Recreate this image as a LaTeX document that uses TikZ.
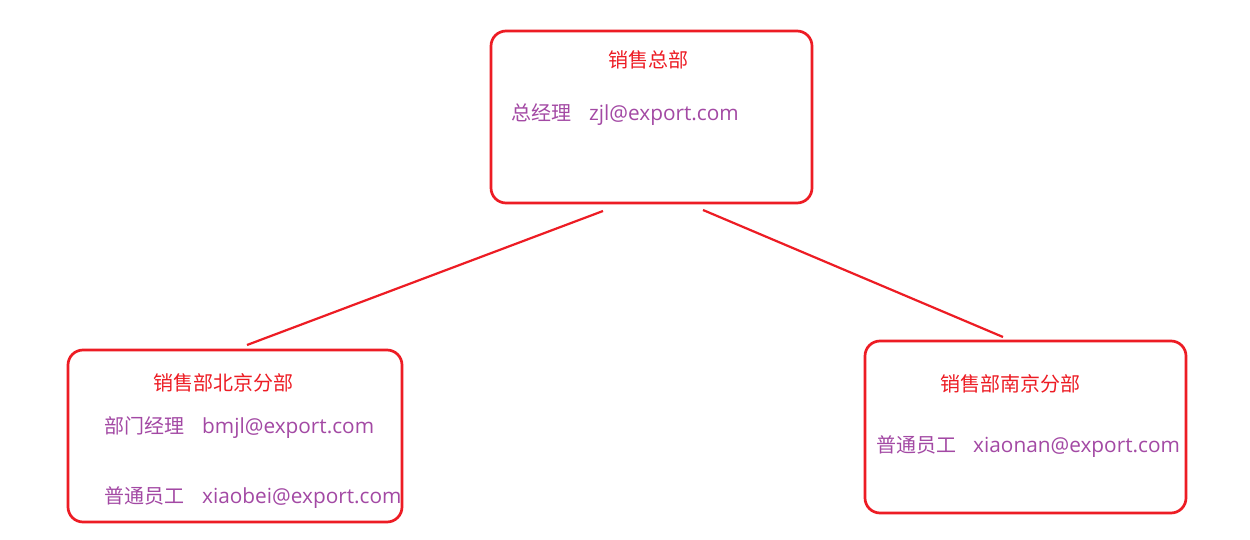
\documentclass[tikz,border=0pt]{standalone}
\usepackage{fontspec}
\newfontfamily\cjk{Noto Sans CJK SC}
\newfontfamily\lat{Open Sans}
\definecolor{pred}{HTML}{ED1C24}
\definecolor{ppur}{HTML}{A349A4}
\begin{document}
\begin{tikzpicture}[x=1pt,y=-1pt,
  box/.style={draw=pred, line width=2.7pt, rounded corners=15pt, inner sep=0pt},
  title/.style={text=pred, font=\cjk\fontsize{20}{20}\selectfont, inner sep=0pt},
  role/.style={text=ppur, font=\cjk\fontsize{20}{20}\selectfont, anchor=west, inner sep=0pt},
  mail/.style={text=ppur, font=\lat\fontsize{20.8}{21}\selectfont, anchor=west, inner sep=0pt},
  link/.style={draw=pred, line width=2.2pt}]
\useasboundingbox (0,0) rectangle (1250,540);
\fill[white] (0,0) rectangle (1250,540);
% boxes
\node[box, minimum width=321pt, minimum height=172pt] (hq) at (651.5,117) {};
\node[box, minimum width=334pt, minimum height=172pt] (bj) at (235,436) {};
\node[box, minimum width=321pt, minimum height=172pt] (nj) at (1025.5,427) {};
% top box texts
\node[title] (hqt) at (648,60) {销售总部};
\node[role] (hqr) at (511,113) {总经理};
\node[mail] (hqm) at (589,115) {zjl@export.com};
% Beijing box texts
\node[title] (bjt) at (223,383) {销售部北京分部};
\node[role] (bjr1) at (104,426) {部门经理};
\node[mail] (bjm1) at (202,428) {bmjl@export.com};
\node[role] (bjr2) at (104,496) {普通员工};
\node[mail] (bjm2) at (202,498) {xiaobei@export.com};
% Nanjing box texts
\node[title] (njt) at (1010,384) {销售部南京分部};
\node[role] (njr) at (876,445) {普通员工};
\node[mail] (njm) at (973,447) {xiaonan@export.com};
% connectors
\coordinate (hqL) at (603,211);
\coordinate (bjT) at (247,345);
\coordinate (hqR) at (703,210);
\coordinate (njT) at (1003,337);
\draw[link] (hqL) -- (bjT);
\draw[link] (hqR) -- (njT);
\end{tikzpicture}
\end{document}
